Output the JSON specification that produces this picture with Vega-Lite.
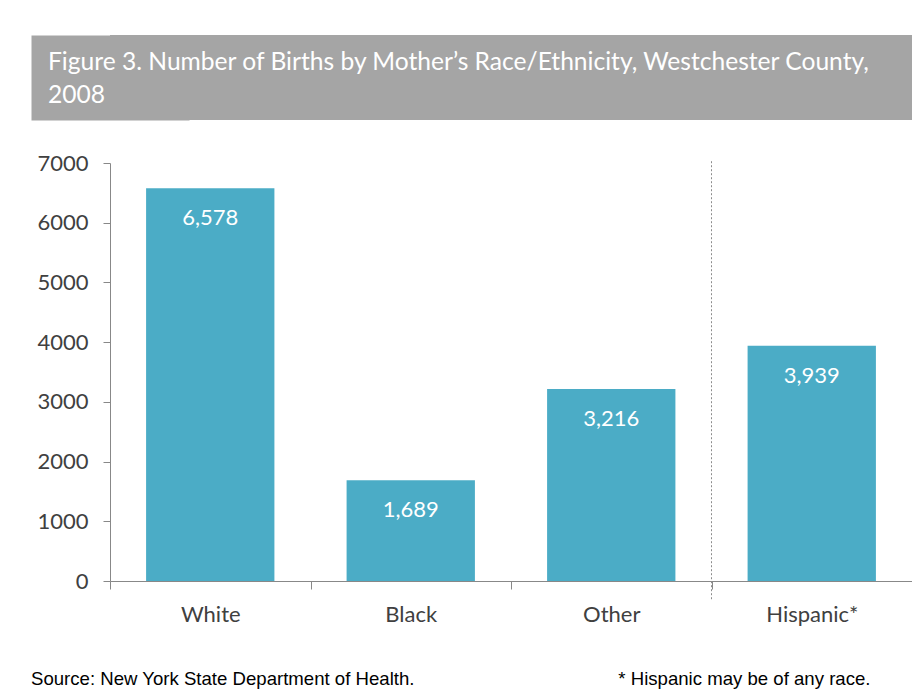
{
  "$schema": "https://vega.github.io/schema/vega-lite/v6.json",
  "padding": {"left": 31, "top": 35, "right": 0, "bottom": 0},
  "background": "white",
  "spacing": 32,
  "config": {"view": {"stroke": null}, "font": "Lato"},
  "vconcat": [
    {
      "width": 802,
      "height": 85,
      "view": {"fill": "#A5A5A5", "stroke": null},
      "title": {
        "text": ["Figure 3. Number of Births by Mother’s Race/Ethnicity, Westchester County,", "2008"],
        "orient": "top",
        "anchor": "start",
        "frame": "group",
        "offset": -74,
        "dx": -62,
        "font": "Lato",
        "fontSize": 24.6,
        "fontWeight": "normal",
        "color": "white",
        "lineHeight": 33,
        "baseline": "top",
        "zindex": 2
      },
      "data": {"values": [{"panel": "banner"}]},
      "mark": {"type": "rect", "fill": "#A5A5A5"},
      "encoding": {
        "y": {
          "field": "panel",
          "type": "nominal",
          "axis": {
            "title": null,
            "labels": false,
            "ticks": false,
            "domainWidth": 158,
            "domainColor": "#A5A5A5",
            "domainCap": "butt",
            "zindex": 0
          }
        }
      }
    },
    {
      "width": 802,
      "height": 418,
      "data": {
        "values": [
          {"race": "White", "births": 6578},
          {"race": "Black", "births": 1689},
          {"race": "Other", "births": 3216},
          {"race": "Hispanic*", "births": 3939}
        ]
      },
      "title": {
        "text": "Source: New York State Department of Health.",
        "orient": "bottom",
        "anchor": "start",
        "frame": "bounds",
        "offset": -18,
        "font": "Liberation Sans",
        "fontSize": 18.6,
        "fontWeight": "normal",
        "color": "black"
      },
      "encoding": {
        "x": {
          "field": "race",
          "type": "nominal",
          "sort": null,
          "scale": {"paddingInner": 0, "paddingOuter": 0},
          "axis": {
            "title": "* Hispanic may be of any race.",
            "titleFont": "Liberation Sans",
            "titleFontSize": 18.6,
            "titleFontWeight": "normal",
            "titleColor": "black",
            "titleX": 760,
            "titleY": 103.5,
            "titleAlign": "right",
            "titleBaseline": "alphabetic",
            "labelAngle": 0,
            "labelFont": "Lato",
            "labelFontSize": 22,
            "labelColor": "#404040",
            "labelPadding": 15,
            "tickBand": "extent",
            "tickSize": 8,
            "tickColor": "#888888",
            "domainColor": "#888888"
          }
        }
      },
      "layer": [
        {
          "mark": {"type": "bar", "color": "#4BACC6", "width": {"band": 0.64}},
          "encoding": {
            "y": {
              "field": "births",
              "type": "quantitative",
              "scale": {"domain": [0, 7000]},
              "axis": {
                "title": null,
                "values": [0, 1000, 2000, 3000, 4000, 5000, 6000, 7000],
                "format": "d",
                "grid": false,
                "tickSize": 7,
                "labelPadding": 15,
                "labelFont": "Lato",
                "labelFontSize": 22,
                "labelColor": "#404040",
                "tickColor": "#888888",
                "domainColor": "#888888",
                "minExtent": 79
              }
            }
          }
        },
        {
          "mark": {"type": "text", "color": "white", "font": "Lato", "fontSize": 22, "baseline": "middle", "dy": 30},
          "encoding": {
            "y": {"field": "births", "type": "quantitative"},
            "text": {"field": "births", "type": "quantitative", "format": ","}
          }
        },
        {
          "data": {"values": [{"divider": "ethnicity"}]},
          "mark": {"type": "rule", "color": "#8c8c8c", "strokeDash": [2, 2], "strokeWidth": 1},
          "encoding": {
            "x": {"datum": "Hispanic*", "type": "nominal", "bandPosition": 0},
            "y": {"datum": 7030, "type": "quantitative"},
            "y2": {"datum": -325}
          }
        }
      ]
    }
  ]
}
